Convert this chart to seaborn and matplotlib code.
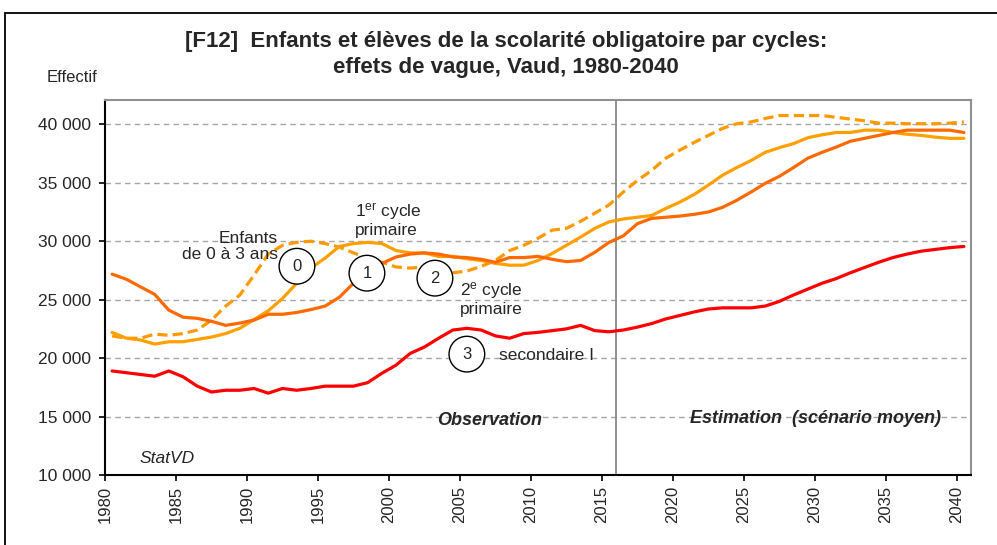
import numpy as np
import pandas as pd
import matplotlib
matplotlib.use("Agg")
import matplotlib.pyplot as plt
from matplotlib.lines import Line2D
import seaborn as sns

years = list(range(1980, 2041))

enfants_0_3 = [21900, 21700, 21700, 22050, 21950, 22100, 22400, 23250, 24450, 25400,
               27100, 28900, 29650, 29900, 30000, 29800, 29500, 29000, 28550, 28200,
               27800, 27700, 27800, 27450, 27300, 27450, 27850, 28350, 29200, 29650,
               30250, 30950, 31100, 31700, 32400, 33100, 34200, 35200, 36050, 37100,
               37800, 38450, 39050, 39650, 40050, 40200, 40500, 40750, 40750, 40750,
               40750, 40600, 40450, 40300, 40100, 40100, 40050, 40050, 40050, 40100, 40200]

cycle1 = [22200, 21700, 21550, 21200, 21400, 21400, 21600, 21800, 22100, 22550,
          23300, 24050, 25100, 26400, 27700, 28550, 29550, 29800, 29900, 29800,
          29200, 29000, 29000, 28700, 28700, 28500, 28350, 28100, 27950, 27950,
          28350, 28950, 29650, 30350, 31100, 31650, 31900, 32050, 32200, 32800,
          33350, 34000, 34800, 35650, 36300, 36900, 37600, 38000, 38350, 38850,
          39100, 39300, 39300, 39500, 39500, 39300, 39150, 39050, 38900, 38800, 38800]

cycle2 = [27180, 26750, 26100, 25450, 24100, 23500, 23400, 23150, 22800, 23000,
          23250, 23750, 23750, 23900, 24150, 24450, 25200, 26400, 27500, 28100,
          28650, 28900, 29000, 28900, 28650, 28600, 28450, 28200, 28600, 28600,
          28700, 28450, 28250, 28350, 29050, 29900, 30450, 31500, 31950, 32050,
          32150, 32300, 32500, 32900, 33500, 34200, 34950, 35550, 36300, 37100,
          37600, 38050, 38550, 38800, 39050, 39300, 39500, 39500, 39500, 39500, 39300]

secondaire1 = [18900, 18750, 18600, 18450, 18900, 18400, 17600, 17100, 17250, 17250,
               17400, 17000, 17400, 17250, 17400, 17600, 17600, 17600, 17900, 18700,
               19400, 20400, 20950, 21700, 22400, 22550, 22400, 21900, 21700, 22100,
               22200, 22350, 22500, 22800, 22350, 22250, 22400, 22650, 22950, 23350,
               23650, 23950, 24200, 24300, 24300, 24300, 24450, 24850, 25400, 25900,
               26400, 26800, 27300, 27750, 28200, 28600, 28900, 29150, 29300, 29450, 29550]

series_names = ["Enfants de 0 à 3 ans", "1er cycle primaire", "2e cycle primaire", "secondaire I"]
series_values = [enfants_0_3, cycle1, cycle2, secondaire1]
series_colors = ["#FF9900", "#FFA000", "#FF6A00", "#FF0000"]
series_dashed = [True, False, False, False]

ytick_values = [10000, 15000, 20000, 25000, 30000, 35000, 40000]
ytick_labels = ["10 000", "15 000", "20 000", "25 000", "30 000", "35 000", "40 000"]
xtick_values = list(range(1980, 2041, 5))

sns.set_style("white")
plt.rcParams["font.family"] = ["Liberation Sans", "DejaVu Sans"]
plt.rcParams["mathtext.fontset"] = "custom"
plt.rcParams["mathtext.rm"] = "Liberation Sans"
plt.rcParams["mathtext.it"] = "Liberation Sans:italic"

fig = plt.figure(figsize=(9.97, 5.45), dpi=100)
ax = fig.add_axes([105 / 997, 1 - 475 / 545, (971 - 105) / 997, (475 - 100) / 545])

frames = []
for name, vals in zip(series_names, series_values):
    frames.append(pd.DataFrame({"year": np.array(years) + 0.5, "value": vals, "serie": name}))
df = pd.concat(frames, ignore_index=True)

for yv in ytick_values[1:]:
    ax.axhline(yv, color="#A6A6A6", lw=1.0, ls=(0, (4, 3)), zorder=0)

for name, col, dashed in zip(series_names, series_colors, series_dashed):
    sub = df[df["serie"] == name]
    sns.lineplot(data=sub, x="year", y="value", ax=ax, color=col, lw=2.3,
                 ls=(0, (3.2, 1.6)) if dashed else "-", zorder=3, legend=False)

ax.axvline(2016, color="#808080", lw=1.2, zorder=2)

ax.set_xlim(1980, 2041)
ax.set_ylim(10000, 42080)
ax.set_xticks(xtick_values)
ax.set_xticklabels([str(v) for v in xtick_values], rotation=90, fontsize=12)
ax.set_yticks(ytick_values)
ax.set_yticklabels(ytick_labels, fontsize=12.5)
ax.set_xlabel("")
ax.set_ylabel("")
ax.tick_params(axis="y", direction="out", length=4, width=1.2, color="black", left=True, pad=6)
ax.tick_params(axis="x", direction="out", length=4, width=1.2, color="black", bottom=True, pad=4)

for s in ["left", "bottom"]:
    ax.spines[s].set_color("black")
    ax.spines[s].set_linewidth(1.5)
for s in ["top", "right"]:
    ax.spines[s].set_color("#909090")
    ax.spines[s].set_linewidth(1.5)

circles = [("0", 1993.52, 27860), ("1", 1998.45, 27265), ("2", 2003.24, 26840), ("3", 2005.49, 20340)]
for lab, cx, cy in circles:
    ax.text(cx, cy, lab, ha="center", va="center", fontsize=12, zorder=5,
            bbox=dict(boxstyle="circle,pad=0.62", fc="white", ec="black", lw=1.0))

fs = 12.5
ax.text(1992.18, 29530, "Enfants\nde 0 à 3 ans", ha="right", va="center", fontsize=fs,
        multialignment="right", linespacing=1.1, zorder=4)
ax.text(1997.6, 31838, "1$^{\\mathrm{er}}$ cycle\nprimaire", ha="left", va="center",
        fontsize=fs, linespacing=1.1, zorder=4)
ax.text(2005.0, 25128, "2$^{\\mathrm{e}}$ cycle\nprimaire", ha="left", va="center",
        fontsize=fs, linespacing=1.1, zorder=4)
ax.text(2007.75, 20256, "secondaire I", ha="left", va="center", fontsize=fs, zorder=4)
ax.text(2007.1, 14700, "Observation", ha="center", va="center", fontsize=13,
        fontweight="bold", fontstyle="italic", zorder=4)
ax.text(2030.07, 14870, "Estimation  (scénario moyen)", ha="center", va="center",
        fontsize=13, fontweight="bold", fontstyle="italic", zorder=4)
ax.text(1982.46, 11450, "StatVD", ha="left", va="center", fontsize=12.5,
        fontstyle="italic", zorder=4)

fig.text(506 / 997, 1 - 41 / 545, "[F12]  Enfants et élèves de la scolarité obligatoire par cycles:",
         ha="center", va="center", fontsize=16, fontweight="bold")
fig.text(506 / 997, 1 - 68 / 545, "effets de vague, Vaud, 1980-2040",
         ha="center", va="center", fontsize=16, fontweight="bold")
fig.text(47 / 997, 1 - 78 / 545, "Effectif", ha="left", va="center", fontsize=12)

fig.add_artist(Line2D([5 / 997, 1.0], [1 - 12.5 / 545, 1 - 12.5 / 545], transform=fig.transFigure,
                      color="black", lw=1.3))
fig.add_artist(Line2D([5 / 997, 5 / 997], [0, 1 - 12.5 / 545], transform=fig.transFigure,
                      color="black", lw=1.3))

fig.savefig("out.png", dpi=100)
